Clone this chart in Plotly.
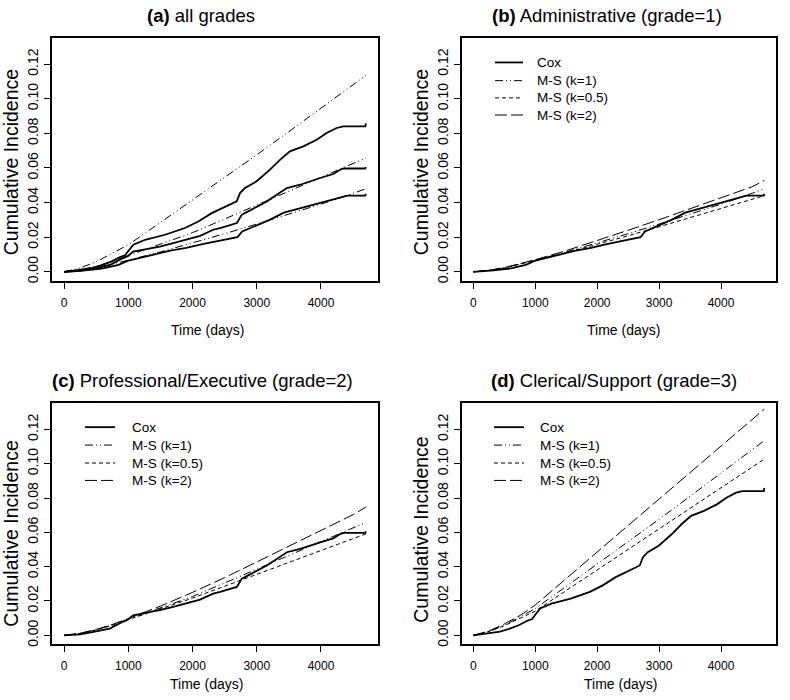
import plotly.graph_objects as go

# ---------------- data ----------------
ms_time = [0, 250, 500, 750, 1000, 1500, 2000, 2500, 3000, 3500, 4000, 4500, 4700]

g1_ms_k1 = [0, 0.0008, 0.0023, 0.0043, 0.0067, 0.0115, 0.0166, 0.0220, 0.0276, 0.0333, 0.0391, 0.0453, 0.0480]
g1_ms_k05 = [0, 0.0008, 0.0022, 0.0042, 0.0065, 0.0110, 0.0158, 0.0208, 0.0260, 0.0314, 0.0368, 0.0420, 0.0440]
g1_ms_k2 = [0, 0.0008, 0.0024, 0.0045, 0.0070, 0.0122, 0.0180, 0.0240, 0.0301, 0.0364, 0.0428, 0.0491, 0.0528]

g2_ms_k1 = [0, 0.0011, 0.0032, 0.0060, 0.0094, 0.0158, 0.0226, 0.0305, 0.0385, 0.0465, 0.0545, 0.0625, 0.0658]
g2_ms_k05 = [0, 0.0011, 0.0031, 0.0058, 0.0091, 0.0152, 0.0217, 0.0286, 0.0356, 0.0425, 0.0495, 0.0564, 0.0591]
g2_ms_k2 = [0, 0.0012, 0.0034, 0.0063, 0.0098, 0.0170, 0.0250, 0.0336, 0.0427, 0.0519, 0.0611, 0.0703, 0.0748]

g3_ms_k1 = [0, 0.0022, 0.0058, 0.0105, 0.0156, 0.0285, 0.0414, 0.0543, 0.0676, 0.0810, 0.0945, 0.1080, 0.1135]
g3_ms_k05 = [0, 0.0022, 0.0056, 0.0098, 0.0141, 0.0261, 0.0380, 0.0499, 0.0619, 0.0739, 0.0859, 0.0978, 0.1027]
g3_ms_k2 = [0, 0.0025, 0.0066, 0.0115, 0.0176, 0.0329, 0.0486, 0.0640, 0.0794, 0.0948, 0.1102, 0.1256, 0.1318]

g1_cox_t = [0, 328, 588, 848, 1004, 1160, 1368, 1654, 1900, 2174, 2408, 2590, 2700, 2773,
            3007, 3200, 3423, 3734, 4099, 4300, 4411, 4690, 4700]
g1_cox = [0, 0.0008, 0.0019, 0.0040, 0.0065, 0.0079, 0.0098, 0.0122, 0.0138, 0.0162, 0.0178,
          0.0189, 0.0200, 0.0233, 0.0271, 0.0300, 0.0342, 0.0373, 0.0406, 0.0425, 0.0440, 0.0440, 0.0450]

g2_cox_t = [0, 250, 400, 550, 712, 868, 997, 1075, 1231, 1491, 1699, 1906, 2118, 2322, 2430,
            2690, 2768, 2897, 3157, 3469, 3676, 3988, 4192, 4299, 4351, 4690, 4700]
g2_cox = [0, 0.0006, 0.0015, 0.0025, 0.0039, 0.0070, 0.0092, 0.0117, 0.0127, 0.0146, 0.0166,
          0.0185, 0.0208, 0.0243, 0.0253, 0.0282, 0.0330, 0.0355, 0.0407, 0.0484, 0.0503, 0.0542,
          0.0565, 0.0590, 0.0597, 0.0597, 0.0605]

g3_cox_t = [0, 200, 431, 600, 742, 870, 949, 1000, 1079, 1261, 1572, 1883, 2090, 2299, 2532,
            2650, 2688, 2739, 2817, 2999, 3206, 3362, 3517, 3725, 3933, 4088, 4244, 4348, 4690, 4700]
g3_cox = [0, 0.0008, 0.0021, 0.0040, 0.0060, 0.0085, 0.0095, 0.0120, 0.0156, 0.0185, 0.0214,
          0.0253, 0.0291, 0.0339, 0.0378, 0.0400, 0.0407, 0.0455, 0.0484, 0.0523, 0.0590, 0.0647,
          0.0696, 0.0725, 0.0763, 0.0802, 0.0831, 0.0840, 0.0840, 0.0858]

x_ticks = [0, 1000, 2000, 3000, 4000]
y_ticks = [0.00, 0.02, 0.04, 0.06, 0.08, 0.10, 0.12]
legend_labels = ["Cox", "M-S (k=1)", "M-S (k=0.5)", "M-S (k=2)"]
panel_titles = ["<b>(a)</b> all grades", "<b>(b)</b> Administrative (grade=1)",
                "<b>(c)</b> Professional/Executive (grade=2)", "<b>(d)</b> Clerical/Support (grade=3)"]
x_title = "Time (days)"
y_title = "Cumulative Incidence"

# ---------------- styles ----------------
W, H = 790, 700
FONT = "Liberation Sans, Arial, sans-serif"
DASH_K1 = "8px,3px,1px,3px,1px,3px"
DASH_K05 = "4px,3px"
DASH_K2 = "12px,4px"
styles = [dict(dash="solid", width=1.8), dict(dash=DASH_K1, width=1),
          dict(dash=DASH_K05, width=1), dict(dash=DASH_K2, width=1)]

def px2x(p):
    return p / W

def px2y(p):
    return 1 - p / H

# plot boxes (pixel) : left, right, top, bottom
boxes = [(52, 378, 38, 282), (461.7, 776, 38, 282), (52, 378, 405, 647), (461.7, 776, 405, 647)]

fig = go.Figure()

def add(x, y, idx, st):
    ax = "" if idx == 0 else str(idx + 1)
    fig.add_trace(go.Scatter(x=x, y=y, mode="lines", xaxis="x" + ax, yaxis="y" + ax,
                             line=dict(color="black", **st), showlegend=False, hoverinfo="skip"))

# (a) all grades: Cox + M-S (k=1) for each grade
for t, c in [(g1_cox_t, g1_cox), (g2_cox_t, g2_cox), (g3_cox_t, g3_cox)]:
    add(t, c, 0, styles[0])
for m in [g1_ms_k1, g2_ms_k1, g3_ms_k1]:
    add(ms_time, m, 0, styles[1])

panels = [
    (g1_cox_t, g1_cox, g1_ms_k1, g1_ms_k05, g1_ms_k2),
    (g2_cox_t, g2_cox, g2_ms_k1, g2_ms_k05, g2_ms_k2),
    (g3_cox_t, g3_cox, g3_ms_k1, g3_ms_k05, g3_ms_k2),
]
for i, (ct, cv, k1, k05, k2) in enumerate(panels, start=1):
    add(ct, cv, i, styles[0])
    add(ms_time, k1, i, styles[1])
    add(ms_time, k05, i, styles[2])
    add(ms_time, k2, i, styles[3])

layout = dict(width=W, height=H, margin=dict(l=0, r=0, t=0, b=0),
              paper_bgcolor="white", plot_bgcolor="white", showlegend=False)

for i, (l, r, t, b) in enumerate(boxes):
    ax = "" if i == 0 else str(i + 1)
    layout["xaxis" + ax] = dict(
        domain=[px2x(l), px2x(r)], anchor="y" + ax, range=[-188, 4888],
        tickvals=x_ticks, ticktext=[str(v) for v in x_ticks],
        ticks="outside", ticklen=6, tickwidth=1, tickcolor="black",
        showline=True, linewidth=2, linecolor="black", mirror=True,
        showgrid=False, zeroline=False,
        tickfont=dict(family=FONT, size=12, color="black"),
        ticklabelstandoff=4 if i < 2 else 3)
    layout["yaxis" + ax] = dict(
        domain=[px2y(b), px2y(t)], anchor="x" + ax, range=[-0.0052, 0.1352],
        tickvals=y_ticks, ticktext=["%.2f" % v for v in y_ticks], tickangle=-90,
        ticks="outside", ticklen=6, tickwidth=1, tickcolor="black",
        showline=True, linewidth=2, linecolor="black", mirror=True,
        showgrid=False, zeroline=False, ticklabelstandoff=0,
        tickfont=dict(family=FONT, size=14, color="black"))

annotations = []
shapes = []
title_pos = [(201, 16), (607, 16), (203, 382), (614, 382)]
ytitle_pos = [(11, 163), (421, 163), (11, 536), (421, 532)]
xtitle_pos = [(207, 331), (623, 331), (206, 687), (620, 687)]
for i in range(4):
    tx, ty = title_pos[i]
    annotations.append(dict(text=panel_titles[i], x=px2x(tx), y=px2y(ty), xref="paper", yref="paper",
                            showarrow=False, xanchor="center", yanchor="middle",
                            font=dict(family=FONT, size=18.5, color="black")))
    yx, yy = ytitle_pos[i]
    annotations.append(dict(text=y_title, x=px2x(yx), y=px2y(yy), xref="paper", yref="paper",
                            showarrow=False, textangle=-90, xanchor="center", yanchor="middle",
                            font=dict(family=FONT, size=19.5, color="black")))
    xx, xy = xtitle_pos[i]
    annotations.append(dict(text=x_title, x=px2x(xx), y=px2y(xy), xref="paper", yref="paper",
                            showarrow=False, xanchor="center", yanchor="middle",
                            font=dict(family=FONT, size=14, color="black")))

# legends in panels (b), (c), (d)
leg = [  # line x0, line x1, text x, row y's (pixels)
    (495, 523, 535, [62.7, 81, 98.3, 115.5]),
    (85, 115, 130, [429, 447, 465, 482.5]),
    (494, 524, 538, [429, 447, 465, 482.5]),
]
for (x0, x1, xt, rows) in leg:
    for j, ry in enumerate(rows):
        st = styles[j]
        shapes.append(dict(type="line", xref="paper", yref="paper",
                           x0=px2x(x0), x1=px2x(x1), y0=px2y(ry), y1=px2y(ry),
                           line=dict(color="black", width=st["width"], dash=st["dash"])))
        annotations.append(dict(text=legend_labels[j], x=px2x(xt), y=px2y(ry), xref="paper",
                                yref="paper", showarrow=False, xanchor="left", yanchor="middle",
                                font=dict(family=FONT, size=13.5, color="black")))

layout["annotations"] = annotations
layout["shapes"] = shapes
fig.update_layout(**layout)
fig.write_html("out.html", config={"displayModeBar": False},
               post_script="document.body.style.margin='0px';document.body.style.overflow='hidden';")
